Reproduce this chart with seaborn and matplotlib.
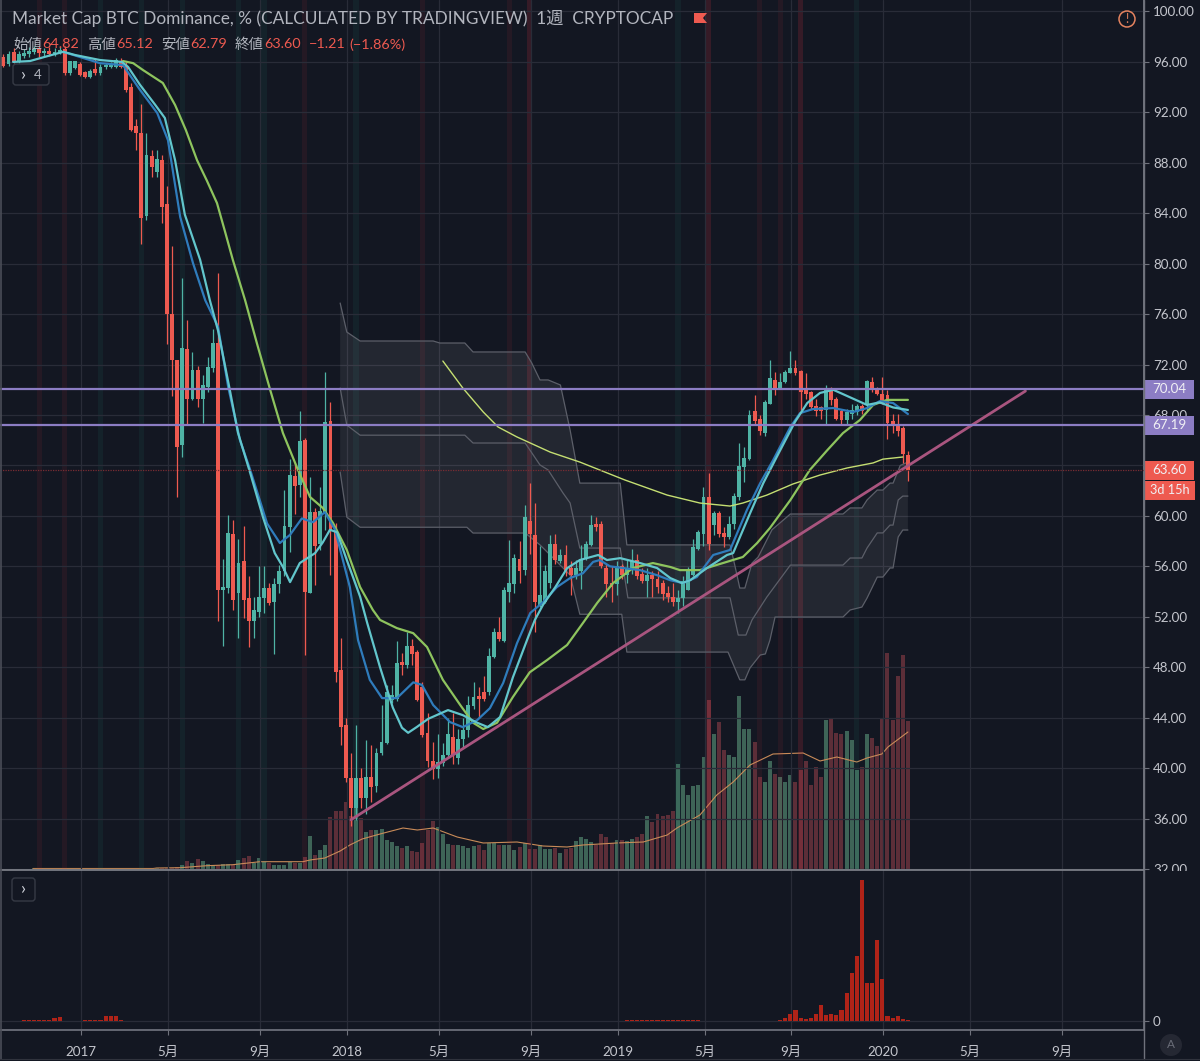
import numpy as np
import pandas as pd
import matplotlib
matplotlib.use('Agg')
import matplotlib.pyplot as plt
from matplotlib.patches import Circle, FancyBboxPatch, Polygon, Rectangle
import seaborn as sns

# weekly candles, one value per week, first week = 0
opens = [96.4, 95.8, 96.8, 96.0, 96.5, 96.6, 96.8, 97.0, 96.7, 96.9,
         96.6, 96.8, 97.0, 95.1, 95.5, 95.8, 95.2, 94.8, 95.4, 95.1,
         95.6, 95.6, 95.6, 96.1, 95.7, 94.0, 90.9, 90.4, 83.8, 88.5,
         87.3, 88.2, 84.7, 76.0, 72.4, 65.6, 73.2, 69.3, 71.6, 69.3,
         70.2, 71.7, 73.7, 54.1, 54.3, 58.6, 53.9, 56.4, 53.5, 51.7,
         52.4, 53.5, 54.3, 53.15, 54.6, 55.6, 59.15, 63.2, 62.45, 66.0,
         53.9, 60.3, 57.8, 60.3, 67.5, 58.9, 47.8, 43.4, 39.2, 36.8,
         39.2, 37.6, 39.3, 38.6, 41.2, 42.0, 45.4, 45.5, 48.4, 48.2,
         49.7, 49.2, 46.4, 42.8, 40.6, 39.9, 40.4, 41.0, 42.5, 40.8,
         42.3, 43.0, 44.9, 45.7, 46.0, 46.0, 48.8, 50.8, 50.1, 54.0,
         54.6, 56.6, 55.7, 59.6, 58.5, 52.9, 53.2, 54.65, 57.8, 56.4,
         56.9, 55.85, 55.3, 55.66, 56.6, 57.7, 59.36, 59.36, 55.85, 54.7,
         54.6, 56.0, 55.3, 55.7, 56.5, 55.4, 54.8, 55.3, 55.0, 54.65,
         53.9, 53.6, 53.2, 53.5, 54.1, 55.3, 57.4, 58.6, 61.5, 59.3,
         60.25, 58.67, 58.3, 59.36, 61.5, 63.9, 64.5, 68.3, 67.66, 66.55,
         68.9, 70.8, 70.17, 70.6, 71.3, 71.7, 71.5, 70.0, 69.8, 68.7,
         68.6, 68.4, 70.1, 69.3, 68.3, 67.6, 68.1, 68.2, 68.75, 68.8,
         70.65, 70.1, 69.7, 69.6, 67.5, 67.26, 66.94, 64.82]
highs = [96.6, 96.9, 97.1, 96.9, 97.0, 97.2, 97.3, 97.3, 97.1, 97.2,
         97.1, 97.2, 97.3, 96.1, 96.1, 96.0, 95.3, 95.4, 96.2, 95.8,
         95.9, 96.0, 96.3, 96.3, 96.0, 94.3, 91.5, 92.7, 90.4, 89.0,
         89.0, 88.6, 86.2, 81.4, 72.4, 78.9, 75.5, 73.0, 71.9, 71.2,
         72.6, 74.8, 79.3, 56.55, 60.07, 59.67, 58.2, 59.2, 55.2, 53.6,
         56.0, 56.05, 54.65, 55.05, 56.1, 62.05, 64.5, 64.2, 68.3, 66.15,
         63.1, 60.6, 62.3, 71.4, 69.0, 59.4, 50.3, 44.0, 41.2, 43.4,
         40.0, 42.2, 41.8, 41.6, 45.0, 46.6, 46.6, 50.1, 49.1, 50.8,
         50.2, 49.4, 46.8, 44.4, 42.1, 42.7, 42.0, 44.0, 44.4, 43.1,
         44.0, 45.7, 46.8, 46.4, 47.3, 49.5, 51.1, 52.0, 54.4, 58.1,
         57.0, 58.0, 60.9, 62.6, 61.0, 57.6, 56.1, 58.5, 58.6, 57.4,
         57.7, 56.4, 56.5, 57.7, 58.0, 60.1, 59.9, 59.6, 56.2, 56.0,
         56.4, 56.2, 56.5, 57.4, 57.0, 55.85, 55.85, 55.6, 55.65, 54.9,
         54.45, 54.65, 54.1, 55.2, 55.95, 58.2, 58.9, 62.3, 63.4, 60.4,
         60.4, 59.15, 60.0, 61.8, 65.8, 65.5, 68.4, 69.6, 68.0, 69.2,
         72.4, 71.4, 71.3, 71.6, 73.1, 72.4, 71.6, 71.3, 69.9, 69.25,
         68.7, 70.4, 70.2, 69.45, 68.5, 68.5, 68.9, 68.9, 68.9, 70.75,
         71.0, 70.25, 71.0, 70.0, 68.1, 68.1, 67.1, 65.12]
lows = [95.6, 95.7, 95.9, 95.9, 96.3, 96.4, 96.6, 96.4, 96.5, 96.5,
        96.5, 96.6, 95.0, 95.0, 95.4, 94.9, 94.7, 94.7, 95.0, 95.0,
        95.4, 95.5, 95.5, 95.5, 93.6, 90.5, 89.0, 81.6, 83.5, 86.9,
        86.9, 83.2, 73.6, 69.5, 61.5, 64.7, 67.2, 69.2, 68.6, 67.4,
        69.8, 71.4, 51.7, 49.68, 53.86, 52.54, 50.3, 51.9, 49.6, 50.3,
        52.0, 52.3, 52.9, 49.05, 53.85, 55.2, 57.15, 60.15, 61.5, 48.97,
        53.9, 54.5, 57.3, 58.9, 55.3, 46.8, 41.8, 38.9, 35.4, 35.9,
        36.8, 36.4, 37.3, 38.1, 41.0, 41.9, 45.2, 45.3, 47.4, 47.9,
        48.2, 45.3, 42.5, 40.1, 39.1, 39.2, 40.2, 40.8, 40.3, 40.3,
        41.6, 42.5, 44.7, 44.0, 45.3, 45.8, 48.7, 50.1, 50.0, 53.2,
        53.9, 54.65, 55.3, 57.0, 50.8, 52.8, 53.07, 54.3, 56.2, 56.3,
        55.2, 53.7, 55.0, 54.2, 56.5, 57.6, 58.8, 55.9, 53.6, 53.2,
        53.7, 55.0, 54.7, 55.4, 55.0, 54.7, 53.6, 53.6, 53.9, 53.3,
        53.2, 52.85, 52.3, 52.85, 54.1, 55.2, 57.3, 57.6, 57.3, 58.5,
        58.3, 57.56, 58.2, 59.0, 61.3, 62.7, 64.4, 67.2, 66.4, 66.3,
        68.9, 69.6, 70.1, 70.5, 71.3, 71.2, 68.4, 69.3, 68.5, 67.9,
        67.7, 67.2, 68.8, 67.6, 67.3, 67.3, 67.7, 68.0, 68.1, 68.3,
        69.85, 69.6, 68.9, 66.07, 66.6, 66.3, 64.17, 62.79]
closes = [95.7, 96.6, 96.0, 96.6, 96.7, 96.9, 97.0, 96.7, 96.9, 96.6,
          96.8, 96.95, 95.1, 96.05, 96.05, 95.0, 94.8, 95.3, 95.1, 95.6,
          95.75, 95.8, 96.15, 95.6, 93.8, 90.6, 90.4, 83.6, 88.6, 87.7,
          88.3, 84.5, 76.0, 72.4, 65.5, 73.3, 69.3, 71.6, 69.3, 70.4,
          71.8, 73.7, 54.1, 54.4, 58.67, 53.33, 56.3, 53.33, 51.69, 52.5,
          53.6, 54.3, 53.1, 54.6, 55.6, 59.2, 63.25, 62.4, 65.9, 54.0,
          60.3, 57.64, 60.4, 67.47, 58.9, 47.65, 43.26, 39.2, 36.8, 39.2,
          37.6, 39.3, 38.5, 41.2, 42.1, 46.0, 45.8, 48.3, 48.2, 49.7,
          49.05, 45.4, 42.6, 40.6, 39.9, 40.5, 41.0, 42.7, 41.0, 42.3,
          43.0, 45.0, 45.6, 45.5, 45.5, 48.9, 50.8, 50.2, 54.1, 54.66,
          56.7, 55.66, 59.9, 58.6, 53.2, 53.7, 55.66, 57.8, 56.5, 56.9,
          55.66, 55.3, 55.85, 56.6, 57.8, 59.3, 59.15, 56.0, 54.6, 54.4,
          56.0, 55.3, 55.9, 56.4, 55.2, 54.85, 55.3, 55.0, 54.35, 53.8,
          53.55, 53.2, 53.5, 54.8, 55.7, 57.5, 58.75, 61.5, 57.8, 60.2,
          58.6, 58.3, 59.36, 61.6, 63.96, 64.57, 68.0, 67.55, 66.73, 69.0,
          70.9, 70.17, 70.65, 71.44, 71.7, 71.3, 69.85, 69.64, 68.66, 68.3,
          68.3, 70.1, 69.2, 67.7, 67.6, 68.26, 68.4, 68.75, 68.35, 70.7,
          70.0, 69.64, 68.9, 67.34, 67.2, 66.7, 64.9, 63.6]

volume = [0, 0, 0, 0, 0, 0, 0.7, 0.7, 0.7, 0.7,
          0.7, 0.7, 0.7, 0.7, 0.7, 0.7, 0.7, 0.7, 0.7, 0.7,
          0.7, 0.7, 0.7, 0.7, 0.7, 0.7, 0.7, 0.7, 0.7, 0.7,
          1.5, 1.5, 1.5, 1.5, 2, 4, 8, 6, 10, 8,
          5, 4, 4, 5, 5, 4, 9, 11, 13, 6,
          11, 7, 6, 4, 4, 4, 7, 6, 6, 12,
          33, 14, 19, 24, 52, 58, 58, 67, 53, 62,
          51, 37, 39, 39, 40, 29, 27, 23, 21, 23,
          18, 17, 26, 39, 48, 42, 35, 25, 24, 24,
          23, 21, 23, 24, 19, 26, 26, 24, 24, 24,
          19, 22, 26, 20, 20, 24, 20, 20, 21, 16,
          20, 21, 28, 32, 30, 27, 24, 35, 32, 26,
          29, 29, 28, 30, 32, 35, 53, 47, 55, 53,
          54, 58, 105, 84, 74, 83, 84, 112, 169, 135,
          147, 119, 114, 112, 173, 140, 140, 127, 92, 87,
          108, 95, 92, 87, 94, 87, 99, 108, 84, 102,
          92, 149, 150, 136, 135, 138, 129, 99, 102, 135,
          131, 123, 150, 216, 149, 193, 214, 148]

vol_ma_w = [5.8, 29.3, 30, 34.6, 39.8, 44.9, 50.2, 58.6, 60, 62.9, 65.9, 67.8, 70.2,
            73.7, 78.2, 81, 84.1, 88.8, 93.9, 100.5, 105.6, 110.3, 113.4, 120, 125.2,
            129.9, 131.8, 136.3, 139.6, 142.8, 146.1, 150.6, 156.5, 159.8, 163.1,
            167, 169, 171.9, 173.1, 177]
vol_ma = [0.5, 0.5, 1, 1.3, 3.3, 4.3, 7.3, 7.3, 9, 11, 18, 24, 30,
          35, 41, 39, 41, 32, 26, 27, 23, 22, 24, 26, 27,
          34, 41, 54, 74, 87, 104, 115, 116, 108, 112,
          107, 111, 115, 122, 137]

# moving averages
ma_fast_w = [1.9, 5.2, 8.1, 11.7, 14, 18.9, 23.2, 24.4, 26.7, 29.7, 31.6, 33.6, 35.5, 38.5, 40.4,
             42, 44.3, 45.9, 48.3, 50.8, 53.1, 54.7, 56.1, 58, 61, 62.5, 63.9, 65.3, 67.2,
             69.8, 71.2, 73.7, 76.2, 78, 79.2, 80.9, 83.1, 87, 89.9, 92.7, 94.8, 97.2, 99.7,
             102.7, 104, 105.6, 108, 110.3, 112.8, 116.4, 118.1, 120.7, 124.6, 127.9, 130.5,
             132.8, 134.4, 137.7, 141.6, 142.8, 146.1, 148.7, 152, 154.9, 157.3, 159.8, 162.4,
             165.7, 169, 171.5, 174.1, 177]
ma_fast = [96, 96.07, 96.4, 96.8, 96.55, 96.15, 96, 95.6, 94.2, 92.6, 91.55, 88.2, 83.9, 80.3, 77.1,
           74.7, 70, 66.6, 63.4, 59.9, 57.05, 55.95, 54.75, 56.26, 57.05, 57.9, 58.9, 58.7, 56.5,
           53.6, 51.5, 48, 44.8, 43.2, 42.8, 43.26, 43.9, 44.6, 44.2, 43.6, 43.25, 44.05, 47.2,
           50.4, 51.75, 52.95, 54.35, 55.85, 56.5, 56.9, 56.5, 56.65, 56.26, 55.87, 55.07,
           54.67, 54.9, 55.87, 56.9, 57.05, 60.2, 62.6, 65.2, 67.45, 68.95, 69.75, 70,
           69.4, 68.8, 69, 68.6, 68.4]

ma_mid_w = [11.7, 18.9, 23.4, 26.7, 30.1, 32.2, 34.6, 37.1, 39.5, 42, 44, 46.3, 48.3, 51.6, 54.1,
            56.1, 58.4, 60.6, 62.9, 64.9, 67.8, 69.4, 71.7, 74.1, 77, 80.2, 81.9, 84.1, 87.4,
            89.9, 92.7, 95.2, 97.8, 100.5, 103.1, 105.6, 108.3, 110.9, 113.4, 115.4, 116.7,
            118.7, 121.2, 124.6, 127.9, 130.5, 133, 135.7, 138.9, 142.2, 145.5, 148.1, 150.6,
            154, 155.9, 158.4, 162.4, 166.3, 169, 171.5, 174.1, 177]
ma_mid = [96.8, 95.9, 95.75, 93.8, 91.95, 89.8, 83.7, 80.05, 77.1, 75, 70.2, 66, 63.64, 59.4, 57.85,
          58.5, 59.8, 59.5, 60.3, 58.9, 54.35, 50.15, 47, 45.55, 45.55, 46.8, 46.6, 45, 43.65,
          43.25, 43.8, 44.75, 46.75, 49.9, 52.3, 53.15, 54.35, 55.07, 55.45, 56.35, 56.5,
          56, 55.87, 55.7, 55.3, 54.9, 54.67, 55.15, 56.9, 57.3, 60.47, 62.6, 64.4,
          67.05, 68.15, 68.47, 68.55, 68.24, 68.55, 69.1, 68.95, 68.08]

ma_slow_w = [23.4, 25.4, 27.3, 31.2, 33.6, 35.7, 37.9, 39.8, 41.8, 43.4, 44.9, 47.3, 49.6, 52.2,
             54.7, 57.65, 60, 62.5, 64.5, 67.2, 69.8, 72.3, 73.7, 77, 80.2, 82.9, 86, 89.4, 91.9,
             93.9, 96.6, 99.7, 103, 106.4, 110.3, 113.4, 116.2, 119.3, 123.2, 127.1, 130.5, 132.4,
             136.3, 140.8, 144.7, 147.5, 150, 154, 157.8, 161.2, 164.3, 167.6, 170.2, 172.9, 177]
ma_slow = [96.07, 95.9, 95.36, 94.33, 92.58, 90.6, 88.2, 86.6, 84.8, 82.5, 80.3, 77.1, 73.7, 70,
           66.57, 63.64, 61.5, 60.63, 59.44, 57.3, 54.36, 52.54, 51.75, 51.1, 50.7, 49.6, 47, 45, 43.6,
           43.1, 43.6, 45.64, 47.6, 48.57, 49.76, 51.5, 53.1, 54.67, 55.87, 56.26, 55.95, 55.7,
           55.7, 56.26, 56.74, 57.85, 59.04, 61.26, 63.64, 65.2, 66.57, 67.6, 68.8, 69.2, 69.2]

ma_long_w = [86, 89.9, 93.9, 96.8, 100.5, 107, 112.8, 116.7, 121.6, 129.9, 136.3, 142.2, 144.7,
             149.4, 154.5, 159.8, 165.1, 170.2, 172.1, 176]
ma_long = [72.28, 70.14, 68.24, 67.05, 66.26, 65.06, 64.27, 63.64, 62.85, 61.65, 61.02, 60.78, 61.02,
           61.65, 62.53, 63.24, 63.8, 64.2, 64.5, 64.67]

# channel, three stepped lines
upper_w = [65.9, 67.2, 69.8, 84.1, 85.4, 90.3, 91.9, 102.1, 103.4, 105, 106.6, 109, 110.9, 112.8,
           120.7, 122, 142.2, 143.2, 144.1, 145.1, 146.5, 147.7, 149.4, 150.4, 154, 164.3, 165.7,
           168, 169, 171, 172.1, 173.5, 174.1, 175.5, 177]
upper = [76.88, 74.58, 73.87, 73.87, 73.71, 73.71, 73, 73, 72.12, 70.78, 70.78, 70.38, 66.8, 62.6,
         62.6, 57.7, 57.7, 55.95, 54.28, 54.28, 56.26, 56.74, 58.1, 58.9, 60.15, 60.15, 60.63,
         60.63, 61.26, 62.05, 62.05, 62.6, 62.6, 64, 64.27]
middle_w = [65.9, 67.2, 69.8, 90.3, 91.9, 102.1, 103.4, 105, 106.6, 109.5, 110.9, 112.8, 120.7,
            122.2, 142.2, 143.8, 145.3, 146.5, 149.4, 154, 164.3, 165.7, 168, 169, 171, 172.1,
            173.5, 174.1, 175.1, 176, 177]
middle = [70.14, 67.2, 66.4, 66.4, 65.78, 65.78, 65, 64.04, 63.64, 61.82, 61.02, 57.45, 57.45,
          53.5, 53.5, 50.55, 50.55, 51.75, 53.57, 56.1, 56.1, 56.66, 56.66, 57.45, 58.65, 58.65,
          59.27, 59.27, 61.26, 61.57, 61.57]
lower_w = [65.9, 67.2, 69.8, 90.7, 91.9, 102.1, 105, 107, 110.9, 112.8, 121, 122, 141.8, 144.1,
           145.1, 146.1, 148.1, 149.1, 150, 151, 164.3, 165.7, 168, 169, 171, 172.1, 173.5,
           174.1, 175.1, 176, 177]
lower = [63.48, 59.9, 59.1, 59.1, 58.64, 58.64, 57.7, 56.9, 55.3, 52.2, 52.2, 49.2, 49.2, 47,
         47, 47.94, 48.97, 49.05, 50.15, 51.98, 51.98, 52.54, 52.77, 53.48, 55.15, 55.15, 55.87,
         55.87, 58.33, 58.88, 58.88]

# highlighted weeks
band_red = [7, 12, 59, 82, 99, 148, 152]
band_red_strong = [103, 138, 156]
band_green = [19, 27, 35, 46, 51, 69, 132, 167]

# bottom pane
osc_w = [4, 5, 6, 7, 8, 9, 10, 11, 16, 17, 18, 19, 20, 21, 22, 23,
         122, 123, 124, 125, 126, 127, 128, 129, 130, 131, 132, 133, 134, 135, 136,
         152, 153, 154, 155, 156, 157, 158, 159, 160, 161, 162, 163, 164, 165,
         166, 167, 168, 169, 170, 171, 172, 173, 174, 175, 176, 177]
osc = [0.7, 0.7, 0.7, 0.7, 0.7, 1.5, 3, 4.5, 1.5, 1.5, 0.7, 0.7, 5.5, 5.5, 5.5, 1.5,
       0.7, 0.7, 0.7, 1, 1, 1.5, 1.5, 1.5, 1, 1, 0.7, 0.7, 0.7, 0.7, 0.7,
       1, 3, 7, 11, 3, 2, 3, 7, 16, 6, 7, 6, 11, 28,
       48, 65, 141, 38, 38, 81, 42, 5, 3, 5, 2, 1]

# axis ticks
time_ticks = [15.2, 32.2, 50.2, 67.2, 85.2, 103.2, 120.3, 137.3, 154.1, 172.1, 189.2, 207.2]
time_labels = ['2017', '5月', '9月', '2018', '5月', '9月', '2019', '5月', '9月', '2020', '5月', '9月']
price_ticks = list(range(32, 101, 4))
level_a, level_b, last_close = 70.04, 67.19, 63.60
trend_w, trend_v = [68, 200], [35.9, 69.9]

BG = '#131722'
GRID = '#292c38'
AXIS = '#6f727c'
TXT = '#b2b5be'
UP = '#4fb3a5'
DOWN = '#ee5a50'
PURPLE = '#8c7dc4'
W, H = 1200, 1061

sns.set_theme(style='dark', rc={'figure.facecolor': BG, 'axes.facecolor': BG, 'axes.edgecolor': AXIS,
                                'xtick.color': AXIS, 'ytick.color': AXIS})
plt.rcParams['font.family'] = ['Lato', 'Noto Sans CJK JP', 'DejaVu Sans']

weeks = np.arange(len(closes))
candles = pd.DataFrame({'week': weeks, 'open': opens, 'high': highs, 'low': lows, 'close': closes, 'vol': volume})
candles['up'] = candles['close'] >= candles['open']

fig = plt.figure(figsize=(W / 100, H / 100), dpi=100)
xlim = (-0.665, 223.2)

# main pane
ax = fig.add_axes([0, (H - 870) / H, 1144 / W, 870 / H])
ax_vol = ax.twinx()
ax.set_zorder(2)
ax_vol.set_zorder(1)
ax.patch.set_visible(False)

up = candles[candles['up']]
down = candles[~candles['up']]
sns.barplot(x=up['week'].values, y=up['vol'].values, native_scale=True, color='#3e6457', saturation=1,
            width=0.78, errorbar=None, linewidth=0, ax=ax_vol)
sns.barplot(x=down['week'].values, y=down['vol'].values, native_scale=True, color='#5c2e38', saturation=1,
            width=0.78, errorbar=None, linewidth=0, ax=ax_vol)
sns.lineplot(x=vol_ma_w, y=vol_ma, color='#c98b58', lw=0.8, estimator=None, sort=False, ax=ax_vol)
ax_vol.set_ylim(-1, 869)
ax_vol.set_yticks([])
ax_vol.grid(False)
ax_vol.set_ylabel('')

for w in band_red:
    ax.axvspan(w - 0.5, w + 0.5, color='#f23645', alpha=0.08, lw=0, zorder=0.5)
for w in band_red_strong:
    ax.axvspan(w - 0.5, w + 0.5, color='#f23645', alpha=0.16, lw=0, zorder=0.5)
for w in band_green:
    ax.axvspan(w - 0.5, w + 0.5, color='#22ab94', alpha=0.08, lw=0, zorder=0.5)

ax.grid(True, color=GRID, lw=0.9, axis='both')
ax.set_axisbelow(True)

# channel
ax.fill(np.r_[upper_w, lower_w[::-1]], np.r_[upper, lower[::-1]], color='white', alpha=0.07, lw=0, zorder=1)
for bw, bv in [(upper_w, upper), (middle_w, middle), (lower_w, lower)]:
    sns.lineplot(x=bw, y=bv, color='#5c5f69', lw=0.9, estimator=None, sort=False, ax=ax, zorder=1.2)

# candles
for frame, col in [(up, UP), (down, DOWN)]:
    ax.vlines(frame['week'], frame['low'], frame['high'], color=col, lw=0.9, zorder=2)
    body_low = frame[['open', 'close']].min(axis=1)
    body_h = (frame['close'] - frame['open']).abs()
    ax.bar(frame['week'], body_h, bottom=body_low, width=0.76, color=col, lw=0, zorder=2.1)

sns.lineplot(x=ma_long_w, y=ma_long, color='#c5df72', lw=1.0, estimator=None, sort=False, ax=ax, zorder=3)
sns.lineplot(x=ma_slow_w, y=ma_slow, color='#8ec45e', lw=1.6, estimator=None, sort=False, ax=ax, zorder=3)
sns.lineplot(x=ma_mid_w, y=ma_mid, color='#2f7cbc', lw=1.6, estimator=None, sort=False, ax=ax, zorder=3.1)
sns.lineplot(x=ma_fast_w, y=ma_fast, color='#62c6cc', lw=1.6, estimator=None, sort=False, ax=ax, zorder=3.2)

sns.lineplot(x=trend_w, y=trend_v, color='#a9557f', lw=2.0, estimator=None, sort=False, ax=ax, zorder=3.5)
ax.axhline(level_a, color=PURPLE, lw=1.6, zorder=3.6)
ax.axhline(level_b, color=PURPLE, lw=1.6, zorder=3.6)
ax.axhline(last_close, color='#7a2c33', lw=0.9, ls=(0, (1, 1)), zorder=3.6)

ax.set_xlim(*xlim)
ax.set_ylim(31.92, 100.91)
ax.set_xticks(time_ticks)
ax.tick_params(axis='x', length=0, labelbottom=False)
ax.yaxis.tick_right()
ax.set_yticks(price_ticks)
# 64.00 sits under the last price tag in the chart
ax.set_yticklabels(['' if p == 64 else f'{p}.00' for p in price_ticks], color='#c4c6cd', fontsize=9.6)
ax.tick_params(axis='y', length=3.5, width=0.8, pad=3, color=AXIS, right=True, left=False)
for s in ['top', 'bottom', 'left']:
    ax.spines[s].set_visible(False)
    ax_vol.spines[s].set_visible(False)
ax.spines['right'].set_color(AXIS)

# bottom pane
ax_low = fig.add_axes([0, (H - 1030) / H, 1144 / W, 160 / H])
ax_low.set_zorder(3)
ax_low.set_facecolor(BG)
sns.barplot(x=osc_w, y=osc, native_scale=True, color='#b02318', saturation=1, width=0.8, errorbar=None,
            linewidth=0, ax=ax_low)
ax_low.set_xlim(*xlim)
ax_low.set_ylim(-9, 151)
ax_low.set_xticks(time_ticks)
ax_low.set_xticklabels(time_labels, color='#c4c6cd', fontsize=9.6)
ax_low.tick_params(axis='x', length=3.5, width=0.8, pad=8, color=AXIS, bottom=True)
ax_low.yaxis.tick_right()
ax_low.set_yticks([0])
ax_low.set_yticklabels(['0'], color='#c4c6cd', fontsize=9.6)
ax_low.tick_params(axis='y', length=3.5, width=0.8, pad=3, color=AXIS, right=True, left=False)
ax_low.grid(True, color=GRID, lw=0.9, axis='both')
ax_low.set_axisbelow(True)
ax_low.set_ylabel('')
for s in ['top', 'left']:
    ax_low.spines[s].set_visible(False)
ax_low.spines['right'].set_color(AXIS)
ax_low.spines['bottom'].set_color(AXIS)

# overlay in pixels for labels, buttons, price tags
ov = fig.add_axes([0, 0, 1, 1])
ov.set_zorder(5)
ov.set_xlim(0, W)
ov.set_ylim(H, 0)
ov.axis('off')


def price_y(v):
    return ov.transData.inverted().transform(ax.transData.transform((0, v)))[1]


# hides the clipped part of the 32.00 label
ov.add_patch(Rectangle((1145, 870.5), 55, 30, color=BG, lw=0))
ov.plot([0, 1144], [870, 870], color='#82858e', lw=1.2)
ov.plot([1, 1], [0, 1059], color='#4a4d57', lw=1.2)
ov.plot([1143.8, 1143.8], [0, 1059], color=AXIS, lw=1.0)
ov.plot([0, W], [1059, 1059], color='#30333d', lw=0.8)

ov.text(12, 18, 'Market Cap BTC Dominance, % (CALCULATED BY TRADINGVIEW)  1週  CRYPTOCAP', color=TXT,
        fontsize=12.4, va='center', ha='left')
ov.add_patch(Polygon([(694, 13), (707, 13), (703, 18), (707, 23), (694, 23)], color=DOWN, lw=0))
ohlc_bits = [(13, '始値', TXT), (42, '64.82', DOWN), (87, '高値', TXT), (116, '65.12', DOWN),
             (161, '安値', TXT), (190, '62.79', DOWN), (235, '終値', TXT), (264, '63.60', DOWN),
             (309, '−1.21', DOWN), (349, '(−1.86%)', DOWN)]
for x, s, c in ohlc_bits:
    ov.text(x, 44.5, s, color=c, fontsize=10.4, va='center', ha='left')

ov.add_patch(FancyBboxPatch((13, 64), 36, 21, boxstyle='round,pad=0,rounding_size=3', fc=BG, ec='#363a45', lw=1))
ov.text(23, 75, '›', color='#d1d4dc', fontsize=13, va='center', ha='center')
ov.text(38, 75, '4', color=TXT, fontsize=9.6, va='center', ha='center')
ov.add_patch(FancyBboxPatch((12, 878), 23, 23, boxstyle='round,pad=0,rounding_size=3', fc=BG, ec='#363a45', lw=1))
ov.text(23, 889, '›', color='#d1d4dc', fontsize=13, va='center', ha='center')

ov.add_patch(Circle((1127, 19), 8, fc='none', ec='#e5835f', lw=1.1))
ov.text(1127, 19, '!', color='#e5835f', fontsize=9, va='center', ha='center')
ov.add_patch(Circle((1171, 1045), 11, fc='#252833', ec='none'))
ov.text(1171, 1045, 'A', color='#6a6d78', fontsize=8.5, va='center', ha='center')

for v, col in [(level_a, PURPLE), (level_b, PURPLE), (last_close, DOWN)]:
    yy = price_y(v)
    ov.add_patch(Rectangle((1144, yy - 9.5), 50, 19, color=col, lw=0))
    ov.text(1169, yy, f'{v:.2f}', color='#f0f0f4', fontsize=9.6, va='center', ha='center')
yy = price_y(last_close) + 20
ov.add_patch(Rectangle((1144, yy - 9.5), 51, 19, color=DOWN, lw=0))
ov.text(1169.5, yy, '3d 15h', color='#f0f0f4', fontsize=9.2, va='center', ha='center')

fig.savefig('out.png', dpi=100, facecolor=BG)
